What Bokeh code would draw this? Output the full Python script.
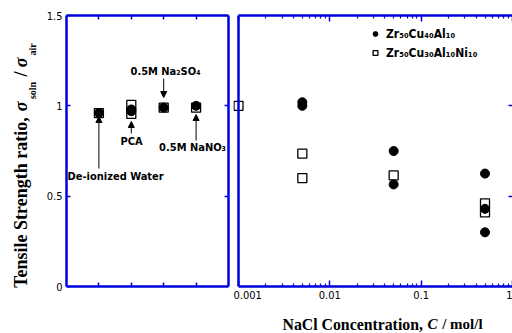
from math import pi
from bokeh.plotting import figure
from bokeh.layouts import row, column
from bokeh.models import (Range1d, LinearAxis, LogAxis, FixedTicker, Label, Arrow,
                          NormalHead, Legend, LegendItem, Span)
from bokeh.embed import file_html
from bokeh.resources import INLINE

# ---------------- data ----------------
# left panel: tensile strength ratio in other solutions (position 1..4)
solutions = ["De-ionized Water", "PCA", "0.5M Na₂SO₄", "0.5M NaNO₃"]
sol_pos = [1, 2, 3, 4]

sol_al_pos = [1, 2, 2, 3, 4]
sol_al_ratio = [0.96, 0.97, 0.98, 0.99, 1.00]
sol_ni_pos = [1, 2, 2, 3, 4]
sol_ni_ratio = [0.96, 1.005, 0.955, 0.99, 0.99]

# right panel: NaCl concentration (mol/l)
nacl_al_conc = [0.005, 0.005, 0.05, 0.05, 0.5, 0.5, 0.5]
nacl_al_ratio = [1.02, 1.00, 0.75, 0.565, 0.625, 0.43, 0.30]
nacl_ni_conc = [0.001, 0.005, 0.005, 0.05, 0.5, 0.5]
nacl_ni_ratio = [1.00, 0.735, 0.60, 0.615, 0.46, 0.41]

series_names = ["Zr₅₀Cu₄₀Al₁₀", "Zr₅₀Cu₃₀Al₁₀Ni₁₀"]

y_ticks = [0, 0.5, 1, 1.5]
y_tick_labels = ["0", "0.5", "1", "1.5"]
x_ticks = [0.001, 0.01, 0.1, 1]
x_tick_labels = ["0.001", "0.01", "0.1", "1"]

# ---------------- style ----------------
BLUE = "#0000DD"
AXW = 2.5
NARROW = "'Liberation Sans Narrow', 'DejaVu Sans Condensed', 'Liberation Sans', sans-serif"
SERIF = "'Liberation Serif', 'Times New Roman', serif"

# page geometry (pixels)
W, H = 512, 333
ROW_H = 310            # height of the row holding the two panels
YL_W = 40              # width of the y-label strip
L1, R1, TOP, BOT = 66, 228, 15, 286
L2, R2 = 238, 512
P2_LEFT = 233          # left edge of right panel canvas


def p1x(px):
    return (px - L1) / (R1 - L1) * 5


def py(pyy):
    return (BOT - pyy) / (BOT - TOP) * 1.5


def style(ax, ticks, labels=None, tick_in=4, minor_in=0, line=True):
    ax.axis_line_color = BLUE if line else None
    ax.axis_line_width = AXW
    ax.major_tick_line_color = BLUE
    ax.major_tick_line_width = 1.5
    ax.minor_tick_line_color = BLUE
    ax.minor_tick_line_width = 1.2
    ax.major_tick_in = tick_in
    ax.major_tick_out = 0
    ax.minor_tick_in = minor_in
    ax.minor_tick_out = 0
    ax.axis_label = None
    ax.major_label_text_font = NARROW
    ax.major_label_text_font_size = "11px"
    ax.major_label_text_color = "black"
    if labels is None:
        ax.major_label_overrides = {t: "" for t in ticks}
        ax.major_label_standoff = 0
    else:
        ax.major_label_overrides = dict(zip(ticks, labels))
        ax.major_label_standoff = 4


common = dict(output_backend="svg", toolbar_location=None, frame_align=False,
              x_axis_location=None, y_axis_location=None,
              min_border_top=TOP, min_border_bottom=ROW_H - BOT)


def blank(width, height, x0, x1, y0, y1):
    f = figure(width=width, height=height, x_range=Range1d(x0, x1),
               y_range=Range1d(y0, y1), output_backend="svg", toolbar_location=None,
               frame_align=False,
               x_axis_location=None, y_axis_location=None, min_border=0)
    f.min_border_left = f.min_border_right = f.min_border_top = f.min_border_bottom = 0
    f.outline_line_color = None
    f.grid.visible = False
    return f


# ---------------- y label strip ----------------
fy = blank(YL_W, ROW_H, 0, YL_W, ROW_H, 0)   # y in page pixels (top = 0)
# text, centre x, centre y (page pixels), size, style
ylab = [
    ("Tensile Strength ratio,", 20.5, 202, "18px", "bold"),
    ("σ", 20.5, 106, "18px", "bold italic"),
    ("soln", 31.5, 90, "10px", "bold"),
    ("/", 20.5, 73.5, "18px", "bold"),
    ("σ", 20.5, 62, "18px", "bold italic"),
    ("air", 31.5, 49, "10px", "bold"),
]
for t, x, y, fs, st in ylab:
    fy.add_layout(Label(x=x, y=y, text=t, angle=pi / 2,
                        text_font=SERIF, text_font_size=fs, text_font_style=st,
                        text_align="center", text_baseline="middle",
                        text_color="black"))

# ---------------- left panel ----------------
p1 = figure(width=P2_LEFT - YL_W, height=ROW_H, x_range=Range1d(0, 5),
            y_range=Range1d(0, 1.5), min_border_left=L1 - YL_W,
            min_border_right=P2_LEFT - R1, **common)
p1.outline_line_color = None
p1.grid.visible = False

ax = LinearAxis(ticker=FixedTicker(ticks=y_ticks))
style(ax, y_ticks, y_tick_labels)
p1.add_layout(ax, "left")
ax = LinearAxis(ticker=FixedTicker(ticks=[0.5, 1]))
style(ax, [0.5, 1])
p1.add_layout(ax, "right")
for side in ("below", "above"):
    ax = LinearAxis(ticker=FixedTicker(ticks=sol_pos))
    style(ax, sol_pos)
    p1.add_layout(ax, side)

p1.scatter(sol_ni_pos, sol_ni_ratio, marker="square", size=9,
           fill_color="white", line_color="black", line_width=1.3)
p1.scatter(sol_al_pos, sol_al_ratio, marker="circle", size=9,
           fill_color="black", line_color="black")

# annotations (text + arrows), placed in page pixels (y = text centre)
ann = [
    (solutions[0], 67, 176, "left"),
    (solutions[1], 131, 141, "center"),
    (solutions[2], 165, 70.5, "center"),
    (solutions[3], 192, 147, "center"),
]
for t, x, y, al in ann:
    p1.add_layout(Label(x=p1x(x), y=py(y), text=t, text_font=NARROW,
                        text_font_size="11px", text_font_style="bold", text_align=al,
                        text_baseline="middle", text_color="black"))
arrows = [
    (98.4, 168, 98.4, 116),
    (130.8, 133, 130.8, 121),
    (163.2, 78, 163.2, 97),
    (195.6, 140, 195.6, 114),
]
for xs, ys, xe, ye in arrows:
    p1.add_layout(Arrow(x_start=p1x(xs), y_start=py(ys), x_end=p1x(xe), y_end=py(ye),
                        line_width=1, line_color="black",
                        end=NormalHead(size=6, fill_color="black", line_color="black",
                                       line_width=1)))

# ---------------- right panel ----------------
dec = (R2 - L2) / 3.0                      # pixels per decade
x_start = 10 ** (-3 - (L2 - P2_LEFT) / dec)  # frame starts a few px left of 0.001
p2 = figure(width=W - P2_LEFT, height=ROW_H, x_axis_type="log",
            x_range=Range1d(x_start, 1), y_range=Range1d(0, 1.5),
            min_border_left=0, min_border_right=0, **common)
p2.outline_line_color = None
p2.grid.visible = False

minor = [m * 10.0 ** k for k in (-3, -2, -1) for m in range(2, 10)]
ax = LogAxis(ticker=FixedTicker(ticks=x_ticks, minor_ticks=minor), bounds=(0.001, 1))
style(ax, x_ticks, x_tick_labels, tick_in=6, minor_in=3)
p2.add_layout(ax, "below")
ax = LogAxis(ticker=FixedTicker(ticks=x_ticks, minor_ticks=minor), bounds=(0.001, 1))
style(ax, x_ticks, tick_in=6, minor_in=3)
p2.add_layout(ax, "above")
ax = LinearAxis(ticker=FixedTicker(ticks=[0.5, 1]))
style(ax, [0.5, 1], line=False)
p2.add_layout(ax, "right")
p2.add_layout(Span(location=0.001, dimension="height", line_color=BLUE,
                   line_width=AXW))

r_ni = p2.scatter(nacl_ni_conc, nacl_ni_ratio, marker="square", size=9,
                  fill_color="white", line_color="black", line_width=1.3)
r_al = p2.scatter(nacl_al_conc, nacl_al_ratio, marker="circle", size=9,
                  fill_color="black", line_color="black")

legend = Legend(items=[LegendItem(label=series_names[0], renderers=[r_al]),
                       LegendItem(label=series_names[1], renderers=[r_ni])],
                location=(136, 226), padding=0, margin=0, spacing=4,
                glyph_width=12, glyph_height=15, label_standoff=5,
                label_text_font=NARROW, label_text_font_size="12px",
                label_text_font_style="bold", label_text_color="black",
                border_line_color=None, background_fill_alpha=0)
p2.add_layout(legend)

# ---------------- x label strip ----------------
fx = blank(W, H - ROW_H, 0, W, H, ROW_H)     # y in page pixels
xlab = [
    ("NaCl Concentration,", 282, "15.8px", "bold"),
    ("C", 427, "15px", "bold italic"),
    ("/ mol/l", 441.7, "15px", "bold"),
]
for t, x, fs, st in xlab:
    fx.add_layout(Label(x=x, y=323.5, text=t, text_font=SERIF, text_font_size=fs,
                        text_font_style=st, text_align="left",
                        text_baseline="middle", text_color="black"))

layout = column(row(fy, p1, p2, spacing=0), fx, spacing=0)
open("out.html", "w").write(file_html(layout, INLINE))
